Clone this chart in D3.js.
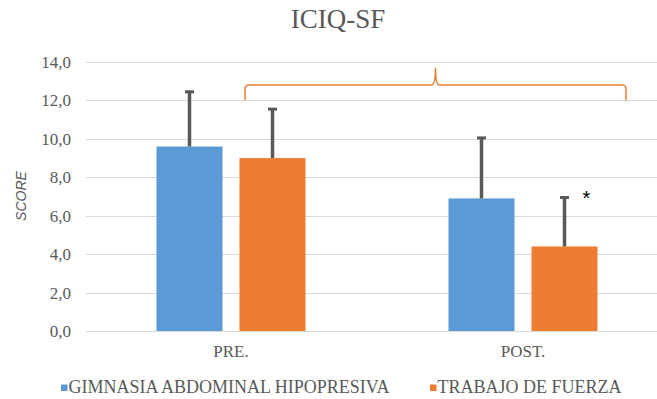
<!DOCTYPE html>
<html>
<head>
<meta charset="utf-8">
<script src="https://cdn.jsdelivr.net/npm/d3@7"></script>
<style>
  html, body { margin: 0; padding: 0; background: #fff; }
  svg { display: block; }
  .serif { font-family: "Liberation Serif", "Times New Roman", serif; }
</style>
</head>
<body>
<svg id="chart" width="657" height="399"></svg>
<script>
// ICIQ-SF scores before and after the intervention, by group
const categories = ["PRE.", "POST."];
const seriesNames = ["GIMNASIA ABDOMINAL HIPOPRESIVA", "TRABAJO DE FUERZA"];
const hipopresivaValues = [9.6, 6.9];
const hipopresivaSD = [2.9, 3.2];
const fuerzaValues = [9.0, 4.4];
const fuerzaSD = [2.6, 2.6];
const yTicks = [0, 2, 4, 6, 8, 10, 12, 14];
const colors = ["#5B9BD5", "#ED7D31"];

const series = [
  { name: seriesNames[0], values: hipopresivaValues, sd: hipopresivaSD, color: colors[0] },
  { name: seriesNames[1], values: fuerzaValues, sd: fuerzaSD, color: colors[1] }
];

const svg = d3.select("#chart");
const textGray = "#595959";

const x = d3.scaleBand().domain(categories).range([85, 669]).padding(0);
const xs = d3.scaleBand().domain(d3.range(series.length)).range([-74.5, 74.5]).paddingInner(0.205).paddingOuter(0);
const y = d3.scaleLinear().domain([0, 14]).range([331, 62]);
const fmt = v => d3.format(".1f")(v).replace(".", ",");

// Title
svg.append("text")
  .attr("class", "serif")
  .attr("x", 338).attr("y", 28)
  .attr("text-anchor", "middle")
  .style("font-size", "27px")
  .attr("fill", textGray)
  .text("ICIQ-SF");

// Gridlines
svg.append("g").selectAll("line").data(yTicks).join("line")
  .attr("x1", 86).attr("x2", 669)
  .attr("y1", d => Math.round(y(d)) + 0.5).attr("y2", d => Math.round(y(d)) + 0.5)
  .attr("stroke", "#D9D9D9").attr("stroke-width", 1);

// Y axis labels
const yAxis = svg.append("g").attr("transform", "translate(71,0)")
  .call(d3.axisLeft(y).tickValues(yTicks).tickFormat(fmt).tickSize(0).tickPadding(0));
yAxis.attr("font-family", null).attr("font-size", null);
yAxis.select(".domain").remove();
yAxis.selectAll("text")
  .attr("class", "serif")
  .style("font-size", "17px").attr("fill", textGray);

// Y axis title
svg.append("text")
  .attr("transform", "translate(26,196) rotate(-90)")
  .attr("text-anchor", "middle")
  .style("font-family", "'Liberation Sans', Arial, sans-serif")
  .style("font-style", "italic").style("font-size", "14px")
  .attr("fill", textGray)
  .text("SCORE");

// Bars
const groups = svg.append("g").selectAll("g").data(series).join("g");
groups.selectAll("rect").data((s, i) => s.values.map((v, j) => ({ v, j, i, color: s.color })))
  .join("rect")
  .attr("x", d => x(categories[d.j]) + x.bandwidth() / 2 + xs(d.i))
  .attr("width", xs.bandwidth())
  .attr("y", d => y(d.v))
  .attr("height", d => y(0) - y(d.v))
  .attr("fill", d => d.color);

// Error bars (plus direction)
const errData = series.flatMap((s, i) => s.values.map((v, j) => ({
  cx: x(categories[j]) + x.bandwidth() / 2 + xs(i) + xs.bandwidth() / 2,
  v, sd: s.sd[j]
})));
const eb = svg.append("g");
eb.selectAll("line.stem").data(errData).join("line")
  .attr("x1", d => d.cx).attr("x2", d => d.cx)
  .attr("y1", d => y(d.v)).attr("y2", d => y(d.v + d.sd))
  .attr("stroke", "#595959").attr("stroke-width", 3.5);
eb.selectAll("line.cap").data(errData).join("line")
  .attr("x1", d => d.cx - 4.5).attr("x2", d => d.cx + 4.5)
  .attr("y1", d => y(d.v + d.sd) + 1).attr("y2", d => y(d.v + d.sd) + 1)
  .attr("stroke", "#595959").attr("stroke-width", 3);

// Baseline axis
svg.append("line")
  .attr("x1", 86).attr("x2", 669)
  .attr("y1", Math.round(y(0)) + 0.5).attr("y2", Math.round(y(0)) + 0.5)
  .attr("stroke", "#D9D9D9").attr("stroke-width", 1);

// Category labels
svg.append("g").selectAll("text").data(categories).join("text")
  .attr("class", "serif")
  .attr("x", d => x(d) + x.bandwidth() / 2)
  .attr("y", 357)
  .attr("text-anchor", "middle")
  .style("font-size", "17px")
  .attr("fill", textGray)
  .text(d => d);

// Significance marker over the strength-training POST bar
const starX = x("POST.") + x.bandwidth() / 2 + xs(1) + xs.bandwidth() - 11;
svg.append("text")
  .attr("x", starX).attr("y", y(fuerzaValues[1] + fuerzaSD[1]) + 8)
  .attr("text-anchor", "middle")
  .style("font-family", "'Liberation Sans', Arial, sans-serif")
  .style("font-size", "20px").attr("fill", "#000")
  .text("*");

// Brace spanning PRE to POST comparison
const bl = x("PRE.") + x.bandwidth() / 2 + 14;
const br = x("POST.") + x.bandwidth() / 2 + 103;
const bm = (bl + br) / 2;
const yEnd = y(12), yMid = y(12.8), yPeak = y(13.7);
const r = 4;
const bracePath = d3.path();
bracePath.moveTo(bl, yEnd);
bracePath.lineTo(bl, yMid + r);
bracePath.quadraticCurveTo(bl, yMid, bl + r, yMid);
bracePath.lineTo(bm - r, yMid);
bracePath.quadraticCurveTo(bm, yMid, bm, yPeak);
bracePath.quadraticCurveTo(bm, yMid, bm + r, yMid);
bracePath.lineTo(br - r, yMid);
bracePath.quadraticCurveTo(br, yMid, br, yMid + r);
bracePath.lineTo(br, yEnd);
svg.append("path")
  .attr("d", bracePath.toString())
  .attr("fill", "none")
  .attr("stroke", "#ED7D31").attr("stroke-width", 1.5);

// Legend
const legendItems = [
  { name: seriesNames[0], color: colors[0], sx: 61 },
  { name: seriesNames[1], color: colors[1], sx: 430 }
];
const lg = svg.append("g").selectAll("g").data(legendItems).join("g");
lg.append("rect")
  .attr("x", d => d.sx).attr("y", 384.5)
  .attr("width", 6.5).attr("height", 6.5)
  .attr("fill", d => d.color);
lg.append("text")
  .attr("class", "serif")
  .attr("x", d => d.sx + 7.5).attr("y", 393)
  .style("font-size", "18px")
  .attr("fill", textGray)
  .text(d => d.name);
</script>
</body>
</html>
